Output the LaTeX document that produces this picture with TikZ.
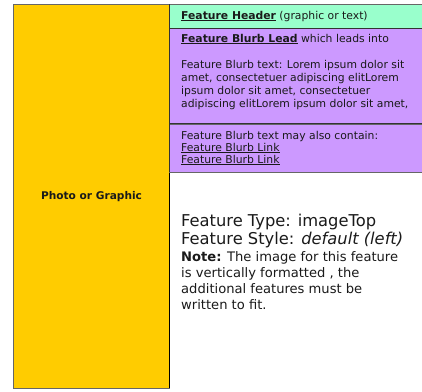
\documentclass[tikz,border=0pt]{standalone}
\usepackage{fontspec}
\setmainfont{DejaVu Sans}
\definecolor{yel}{HTML}{FFCC00}
\definecolor{grn}{HTML}{99FFCC}
\definecolor{pur}{HTML}{CC99FF}
\definecolor{edge}{HTML}{666666}
\definecolor{darkedge}{HTML}{333333}
\definecolor{ink}{HTML}{1A1A1A}
\begin{document}
\begin{tikzpicture}[x=1pt,y=-1pt,
  small/.style={anchor=base west,inner sep=0pt,text=ink,font=\fontsize{10.8}{12}\selectfont},
  big/.style={anchor=base west,inner sep=0pt,text=ink,font=\fontsize{16.3}{18}\selectfont},
  notetext/.style={anchor=base west,inner sep=0pt,text=ink,font=\fontsize{13.1}{16}\selectfont},
  panel/.style={anchor=north west,inner sep=0pt,minimum width=254pt}]
\useasboundingbox (0,0) rectangle (422,391);
\fill[white] (0,0) rectangle (422,391);
% photo box
\node[anchor=north west,inner sep=0pt,fill=yel,draw=edge,line width=1pt,
      minimum width=156pt,minimum height=384pt,
      font=\fontsize{10.6}{12}\selectfont\bfseries,text=ink] (photo) at (13,4) {Photo or Graphic};
\draw[black,line width=1pt] (169,172) -- (169,388);
% header panel
\node[panel,fill=grn,minimum height=24pt] (hdrbox) at (169,4) {};
\draw[edge,line width=1pt] (hdrbox.north west) -- (hdrbox.north east);
% blurb panel
\node[panel,fill=pur,minimum height=96pt] (blurbbox) at (169,28) {};
\draw[darkedge,line width=1pt] (hdrbox.south west) -- (hdrbox.south east);
% link panel
\node[panel,fill=pur,minimum height=48pt] (linkbox) at (169,124) {};
\draw[darkedge,line width=1pt] (blurbbox.south west) ++(0,-0.5) -- ++(254,0);
\draw[edge,line width=1pt] (blurbbox.south west) ++(0,0.5) -- ++(254,0);
\draw[edge,line width=1pt] (linkbox.south west) -- (linkbox.south east);
\draw[darkedge,line width=1pt] (169,4) -- (169,172);
% texts
\node[small] (hdr) at (181,19) {\textbf{\underline{Feature Header}} (graphic or text)};
\node[small] (lead) at (181,42) {\textbf{\underline{Feature Blurb Lead}} which leads into};
\node[small] (b1) at (181,68) {Feature Blurb text: Lorem ipsum dolor sit};
\node[small] (b2) at (181,81) {amet, consectetuer adipiscing elitLorem};
\node[small] (b3) at (181,94) {ipsum dolor sit amet, consectetuer};
\node[small] (b4) at (181,107) {adipiscing elitLorem ipsum dolor sit amet,};
\node[small] (c1) at (181,139) {Feature Blurb text may also contain:};
\node[small] (c2) at (181,151) {\underline{Feature Blurb Link}};
\node[small] (c3) at (181,163) {\underline{Feature Blurb Link}};
\node[big] (t1) at (181,226) {Feature Type: imageTop};
\node[big] (t2) at (181,244) {Feature Style: \textit{default (left)}};
\node[notetext] (n1) at (181,261) {\textbf{Note:} The image for this feature};
\node[notetext] (n2) at (181,277) {is vertically formatted , the};
\node[notetext] (n3) at (181,293) {additional features must be};
\node[notetext] (n4) at (181,309) {written to fit.};
\end{tikzpicture}
\end{document}
